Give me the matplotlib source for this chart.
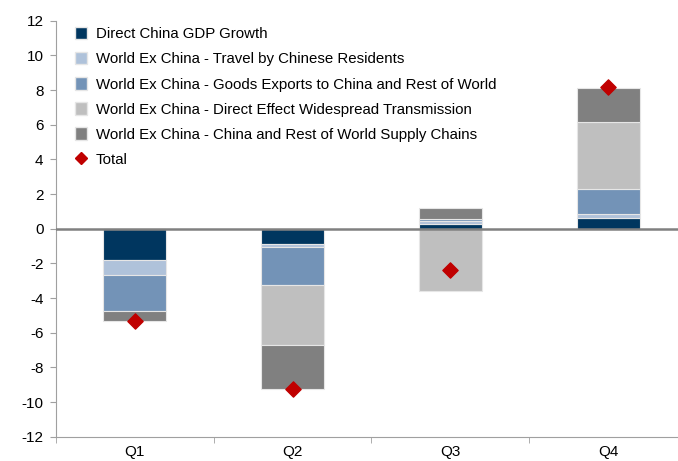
import numpy as np
import matplotlib.pyplot as plt
from matplotlib.lines import Line2D
from matplotlib.patches import Patch

plt.rcParams['font.family'] = ['Liberation Sans', 'DejaVu Sans']
plt.rcParams['axes.unicode_minus'] = False

# Datos
trimestres = ['Q1', 'Q2', 'Q3', 'Q4']
china_pib = [-1.80, -0.88, 0.30, 0.63]
viajes = [-0.87, -0.15, 0.12, 0.20]
exportaciones = [-2.07, -2.21, 0.15, 1.47]
efecto_directo = [0.00, -3.46, -3.57, 3.88]
cadenas = [-0.57, -2.55, 0.65, 1.96]
total = [-5.30, -9.25, -2.38, 8.15]

etiquetas = ['Direct China GDP Growth',
             'World Ex China - Travel by Chinese Residents',
             'World Ex China - Goods Exports to China and Rest of World',
             'World Ex China - Direct Effect Widespread Transmission',
             'World Ex China - China and Rest of World Supply Chains']
colores = ['#00365F', '#AFC2DA', '#7393B7', '#BFBFBF', '#808080']
series = [china_pib, viajes, exportaciones, efecto_directo, cadenas]

fig = plt.figure(figsize=(6.78, 4.61), dpi=100)
ax = fig.add_axes([56 / 678, 24.3 / 461, 631 / 678, 416 / 461])

x = np.arange(len(trimestres))
base_pos = np.zeros(len(trimestres))
base_neg = np.zeros(len(trimestres))
for valores, color in zip(series, colores):
    v = np.array(valores)
    base = np.where(v >= 0, base_pos, base_neg)
    ax.bar(x, v, width=0.4, bottom=base, color=color,
           edgecolor='#E6E6E6', linewidth=0.8, zorder=2)
    base_pos = base_pos + np.where(v >= 0, v, 0)
    base_neg = base_neg + np.where(v < 0, v, 0)

ax.scatter(x, total, marker='D', s=60, color='#C00000', zorder=4)
ax.axhline(0, color='#808080', linewidth=1.8, zorder=3)

ax.set_xlim(-0.5, 3.5)
ax.set_ylim(-12, 12)
ax.set_yticks(np.arange(-12, 13, 2))
ax.set_xticks(x)
ax.set_xticklabels(trimestres)
ax.set_xticks(np.arange(-0.5, 4, 1), minor=True)
ax.tick_params(axis='x', which='major', length=0, labelsize=11, pad=6)
ax.tick_params(axis='x', which='minor', length=4, color='#A0A0A0')
ax.tick_params(axis='y', length=4, color='#A0A0A0', labelsize=11, pad=5)
for lado in ['top', 'right']:
    ax.spines[lado].set_visible(False)
for lado in ['left', 'bottom']:
    ax.spines[lado].set_color('#A0A0A0')

manijas = [Patch(facecolor=c, edgecolor='#E6E6E6') for c in colores]
manijas.append(Line2D([], [], marker='D', color='#C00000', linestyle='None', markersize=6))
ax.legend(manijas, etiquetas + ['Total'], loc='upper left',
          bbox_to_anchor=(0.02, 1.0), frameon=False, fontsize=10.8,
          handlelength=0.8, handleheight=0.9, handletextpad=0.6,
          labelspacing=0.72, borderaxespad=0)

fig.savefig('out.png', dpi=100)
